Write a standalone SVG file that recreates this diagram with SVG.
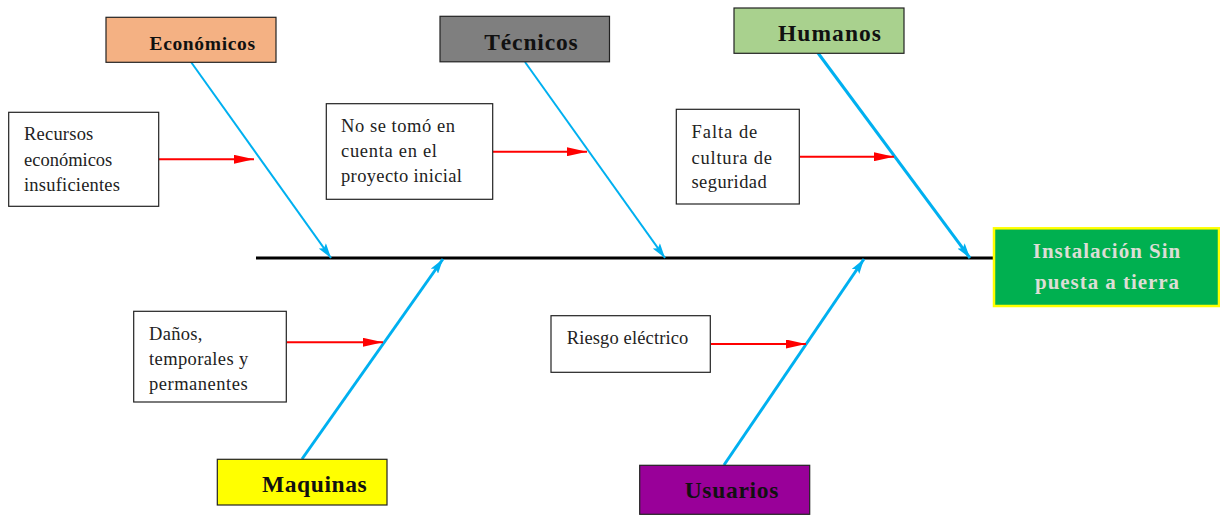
<svg xmlns="http://www.w3.org/2000/svg" width="1220" height="515" viewBox="0 0 1220 515">
<style>
.box{stroke:#222;stroke-width:1.2}
.cause{fill:#fff;stroke:#222;stroke-width:1.2}
.t{font-family:"Liberation Serif","DejaVu Serif",serif;font-size:18.5px;fill:#222}
.h{font-family:"Liberation Serif","DejaVu Serif",serif;font-weight:bold;font-size:23.5px;fill:#111}
.e{font-family:"Liberation Serif","DejaVu Serif",serif;font-weight:bold;font-size:21px;fill:#DDDDD5}
.bone{stroke:#00B0F0;fill:none}
.sub{stroke:#FF0000;stroke-width:2;fill:none;marker-end:url(#ra)}
</style>
<defs>
<marker id="ba" markerUnits="userSpaceOnUse" markerWidth="16" markerHeight="9" refX="15" refY="4.5" orient="auto"><path d="M0,0 L15,4.5 L0,9 L3,4.5 z" fill="#00B0F0"/></marker>
<marker id="ra" markerUnits="userSpaceOnUse" markerWidth="21" markerHeight="9" refX="20" refY="4.5" orient="auto"><path d="M0,0 L20,4.5 L0,9 z" fill="#FF0000"/></marker>
</defs>
<g id="connectors">
<line x1="256" y1="258" x2="994" y2="258" stroke="#000" stroke-width="3"/>
<line class="bone" x1="191" y1="62" x2="331" y2="258" stroke-width="2" marker-end="url(#ba)"/>
<line class="bone" x1="525" y1="62" x2="665" y2="258" stroke-width="2" marker-end="url(#ba)"/>
<line class="bone" x1="818" y1="53" x2="970" y2="258" stroke-width="3" marker-end="url(#ba)"/>
<line class="bone" x1="302" y1="459" x2="443" y2="259" stroke-width="3" marker-end="url(#ba)"/>
<line class="bone" x1="724" y1="465" x2="864" y2="259" stroke-width="3" marker-end="url(#ba)"/>
<line class="sub" x1="159" y1="159.3" x2="254" y2="159.3"/>
<line class="sub" x1="493" y1="151.7" x2="587" y2="151.7"/>
<line class="sub" x1="800" y1="156.7" x2="894" y2="156.7"/>
<line class="sub" x1="287" y1="342.3" x2="383" y2="342.3"/>
<line class="sub" x1="711" y1="344" x2="806" y2="344"/>
</g>
<g id="economicos">
<rect class="box" x="106" y="17.3" width="170" height="45" fill="#F4B183"/>
<text class="h" x="149.5" y="50" font-size="19.5px" style="font-size:19.5px" textLength="105.5">Económicos</text>
</g>
<g id="tecnicos">
<rect class="box" x="440" y="16.3" width="169.5" height="45.5" fill="#7F7F7F"/>
<text class="h" x="484.3" y="50" textLength="93.4">Técnicos</text>
</g>
<g id="humanos">
<rect class="box" x="734" y="8" width="170" height="45.3" fill="#A9D18E"/>
<text class="h" x="778" y="41" textLength="103">Humanos</text>
</g>
<g id="maquinas">
<rect class="box" x="217.3" y="459.3" width="169.7" height="45.7" fill="#FFFF00"/>
<text class="h" x="262" y="492.3" textLength="104.7">Maquinas</text>
</g>
<g id="usuarios">
<rect class="box" x="639.7" y="465.3" width="170" height="49" fill="#990099"/>
<text class="h" x="684.7" y="498.3" textLength="93.6">Usuarios</text>
</g>
<g id="efecto">
<rect x="994" y="228.3" width="225" height="77.7" fill="#00B050" stroke="#FFFF00" stroke-width="2.5"/>
<text class="e" x="1032.7" y="258.3" textLength="147.6">Instalación Sin</text>
<text class="e" x="1035" y="289" textLength="144">puesta a tierra</text>
</g>
<g id="recursos">
<rect class="cause" x="8.7" y="112.3" width="150" height="94"/>
<text class="t" x="24" y="140" textLength="69.3">Recursos</text>
<text class="t" x="24" y="165.7" textLength="88.3">económicos</text>
<text class="t" x="24" y="190.7" textLength="96">insuficientes</text>
</g>
<g id="no-se-tomo">
<rect class="cause" x="326.3" y="103.7" width="166.4" height="95.6"/>
<text class="t" x="341" y="131.7" textLength="114">No se tomó en</text>
<text class="t" x="341" y="156.7" textLength="96">cuenta en el</text>
<text class="t" x="341" y="181.7" textLength="121">proyecto inicial</text>
</g>
<g id="falta">
<rect class="cause" x="676.3" y="109.3" width="123" height="94.7"/>
<text class="t" x="691.5" y="138.3" textLength="65.8">Falta de</text>
<text class="t" x="691.5" y="164" textLength="80.5">cultura de</text>
<text class="t" x="691.5" y="188.3" textLength="75.2">seguridad</text>
</g>
<g id="danos">
<rect class="cause" x="133.7" y="311.3" width="152.6" height="90.7"/>
<text class="t" x="149" y="340" textLength="53.3">Daños,</text>
<text class="t" x="149" y="365" textLength="99.3">temporales y</text>
<text class="t" x="149" y="390" textLength="98.7">permanentes</text>
</g>
<g id="riesgo">
<rect class="cause" x="551" y="315.7" width="159.3" height="56.6"/>
<text class="t" x="566.7" y="344" textLength="121.6">Riesgo eléctrico</text>
</g>
</svg>
